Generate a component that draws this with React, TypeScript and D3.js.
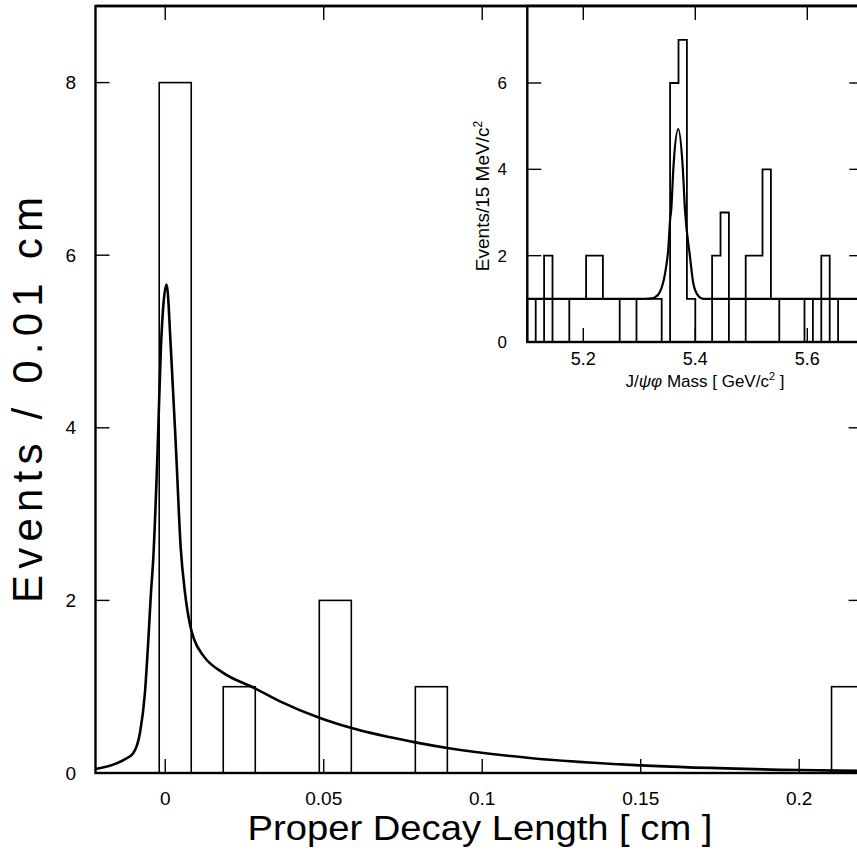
import React from "react";
import * as d3 from "d3";

// ---------- Main plot data ----------
const mainBinStart = [-0.0019, 0.0183, 0.0486, 0.0789, 0.2102];
const mainBinWidth = 0.0101;
const mainCounts = [8, 1, 2, 1, 1];

const mainFitX = [
  -0.022, -0.0132, -0.0101, -0.008, -0.0064, -0.0054, -0.0045, -0.0038, -0.0024, -0.0014,
  0.00044, 0.0018, 0.0034, 0.0049, 0.0062, 0.0078, 0.0091, 0.012, 0.0183, 0.0278, 0.0362,
  0.0486, 0.0588, 0.0789, 0.089, 0.115, 0.15, 0.2, 0.22,
];
const mainFitY = [
  0.046, 0.15, 0.23, 0.46, 0.93, 1.5, 2.09, 2.47, 3.75, 4.9,
  5.66, 4.9, 3.75, 2.6, 2.1, 1.72, 1.55, 1.36, 1.16, 0.99, 0.83,
  0.64, 0.52, 0.355, 0.29, 0.174, 0.088, 0.034, 0.024,
];

const mainXTicks = [0, 0.05, 0.1, 0.15, 0.2];
const mainXTickLabels = ["0", "0.05", "0.1", "0.15", "0.2"];
const mainYTicks = [0, 2, 4, 6, 8];

// ---------- Inset data ----------
const insetBinLow = 5.1;
const insetBinWidth = 0.015;
const insetCounts = [
  1, 0, 2, 0, 0, 1, 1, 2, 2, 1,
  1, 0, 0, 1, 1, 1, 0, 6, 7, 1,
  0, 0, 2, 3, 0, 0, 2, 2, 4, 1,
  0, 0, 0, 1, 0, 2, 0, 1, 1, 1,
];
const insetFitX = [
  5.1, 5.31, 5.322, 5.328, 5.337, 5.346, 5.352, 5.355, 5.357, 5.361,
  5.3696, 5.3775, 5.3816, 5.3905, 5.3964, 5.4054, 5.414, 5.42, 5.7,
];
const insetFitY = [
  1.0, 1.0, 1.01, 1.035, 1.165, 1.59, 2.2, 2.83, 3.06, 4.06,
  4.93, 4.06, 3.06, 1.98, 1.36, 1.066, 1.0, 1.0, 1.0,
];
const insetXTicks = [5.2, 5.4, 5.6];
const insetXTickLabels = ["5.2", "5.4", "5.6"];
const insetYTicks = [0, 2, 4, 6];

const W = 857;
const H = 850;

export default function App() {
  const xM = d3.scaleLinear().domain([-0.022, 0.22]).range([95.5, 862.6]);
  const yM = d3.scaleLinear().domain([0, 8]).range([773, 82.6]);
  const topY = 6;

  const xI = d3.scaleLinear().domain([5.1, 5.7]).range([527.3, 863.3]);
  const yI = d3.scaleLinear().domain([0, 6]).range([342, 83]);

  const mainLine = d3
    .line<number>()
    .x((_, i) => xM(mainFitX[i]))
    .y((d) => yM(d))
    .curve(d3.curveMonotoneX);

  const insetLine = d3
    .line<number>()
    .x((_, i) => xI(insetFitX[i]))
    .y((d) => yI(d))
    .curve(d3.curveMonotoneX);

  const stepPts: [number, number][] = [[insetBinLow, 0]];
  insetCounts.forEach((c, i) => {
    const lo = insetBinLow + i * insetBinWidth;
    const hi = lo + insetBinWidth;
    stepPts.push([lo, c]);
    stepPts.push([hi, c]);
  });
  stepPts.push([insetBinLow + insetCounts.length * insetBinWidth, 0]);
  const stepPath = d3
    .line<[number, number]>()
    .x((d) => xI(d[0]))
    .y((d) => yI(d[1]))(stepPts);

  const tl = 14;
  const x0M = xM.range()[0];
  const x1M = xM.range()[1];
  const y0M = yM(0);
  const x0I = xI.range()[0];
  const x1I = xI.range()[1];
  const y0I = yI(0);

  const tickFont = "'Liberation Sans', Arial, sans-serif";

  return (
    <svg
      width={W}
      height={H}
      style={{ position: "absolute", left: 0, top: 0, background: "#fff" }}
    >
      <rect x={0} y={0} width={W} height={H} fill="#fff" />
      {mainCounts.map((c, i) => (
        <rect
          key={"mb" + i}
          x={xM(mainBinStart[i])}
          y={yM(c)}
          width={xM(mainBinStart[i] + mainBinWidth) - xM(mainBinStart[i])}
          height={y0M - yM(c)}
          fill="none"
          stroke="#000"
          strokeWidth={1.6}
        />
      ))}
      <path d={mainLine(mainFitY) || ""} fill="none" stroke="#000" strokeWidth={2.6} />

      {mainYTicks.map((v) => (
        <g key={"myt" + v}>
          <line x1={x0M} x2={x0M + tl} y1={yM(v)} y2={yM(v)} stroke="#000" strokeWidth={1.4} />
          <line x1={x1M} x2={x1M - tl} y1={yM(v)} y2={yM(v)} stroke="#000" strokeWidth={1.4} />
        </g>
      ))}
      {mainXTicks.map((v) => (
        <g key={"mxt" + v}>
          <line x1={xM(v)} x2={xM(v)} y1={y0M} y2={y0M - tl} stroke="#000" strokeWidth={1.4} />
          <line x1={xM(v)} x2={xM(v)} y1={topY} y2={topY + tl} stroke="#000" strokeWidth={1.4} />
        </g>
      ))}
      <rect
        x={x0M}
        y={topY}
        width={x1M - x0M}
        height={y0M - topY}
        fill="none"
        stroke="#000"
        strokeWidth={2.4}
      />

      {/* inset */}
      <rect x={x0I} y={topY} width={x1I - x0I} height={y0I - topY} fill="#fff" />
      <path d={stepPath || ""} fill="none" stroke="#000" strokeWidth={1.8} />
      <path d={insetLine(insetFitY) || ""} fill="none" stroke="#000" strokeWidth={2.2} />
      {insetYTicks.map((v) => (
        <g key={"iyt" + v}>
          <line x1={x0I} x2={x0I + tl} y1={yI(v)} y2={yI(v)} stroke="#000" strokeWidth={1.4} />
          <line x1={x1I} x2={x1I - tl} y1={yI(v)} y2={yI(v)} stroke="#000" strokeWidth={1.4} />
        </g>
      ))}
      {insetXTicks.map((v) => (
        <g key={"ixt" + v}>
          <line x1={xI(v)} x2={xI(v)} y1={y0I} y2={y0I - tl} stroke="#000" strokeWidth={1.4} />
          <line x1={xI(v)} x2={xI(v)} y1={topY} y2={topY + tl} stroke="#000" strokeWidth={1.4} />
        </g>
      ))}
      <rect
        x={x0I}
        y={topY}
        width={x1I - x0I}
        height={y0I - topY}
        fill="none"
        stroke="#000"
        strokeWidth={2.4}
      />
      <line x1={x0M} x2={x1M} y1={topY} y2={topY} stroke="#000" strokeWidth={2.4} />

      {mainYTicks.map((v) => (
        <text
          key={"myl" + v}
          x={76}
          y={yM(v)}
          dy="0.35em"
          textAnchor="end"
          fontFamily={tickFont}
          fontSize={19}
        >
          {v}
        </text>
      ))}
      {mainXTicks.map((v, i) => (
        <text
          key={"mxl" + v}
          x={xM(v)}
          y={798}
          dy="0.35em"
          textAnchor="middle"
          fontFamily={tickFont}
          fontSize={19}
        >
          {mainXTickLabels[i]}
        </text>
      ))}
      <text
        x={480}
        y={840}
        textAnchor="middle"
        fontFamily={tickFont}
        fontSize={35}
        textLength={465}
        lengthAdjust="spacingAndGlyphs"
      >
        Proper Decay Length [ cm ]
      </text>
      <text
        transform="translate(42,400) rotate(-90)"
        textAnchor="middle"
        fontFamily={tickFont}
        fontSize={42}
        textLength={406}
        lengthAdjust="spacing"
      >
        Events / 0.01 cm
      </text>

      {insetYTicks.map((v) => (
        <text
          key={"iyl" + v}
          x={507}
          y={yI(v)}
          dy="0.35em"
          textAnchor="end"
          fontFamily={tickFont}
          fontSize={17}
        >
          {v}
        </text>
      ))}
      {insetXTicks.map((v, i) => (
        <text
          key={"ixl" + v}
          x={xI(v)}
          y={358.5}
          dy="0.35em"
          textAnchor="middle"
          fontFamily={tickFont}
          fontSize={18}
        >
          {insetXTickLabels[i]}
        </text>
      ))}
      <text x={705} y={387} textAnchor="middle" fontFamily={tickFont} fontSize={17}>
        J/<tspan fontStyle="italic">ψφ</tspan> Mass [ GeV/c
        <tspan dy={-7} fontSize={11}>2</tspan>
        <tspan dy={7}> ]</tspan>
      </text>
      <text
        transform="translate(489,196) rotate(-90)"
        textAnchor="middle"
        fontFamily={tickFont}
        fontSize={19}
      >
        Events/15 MeV/c<tspan dy={-7} fontSize={12}>2</tspan>
      </text>
    </svg>
  );
}
